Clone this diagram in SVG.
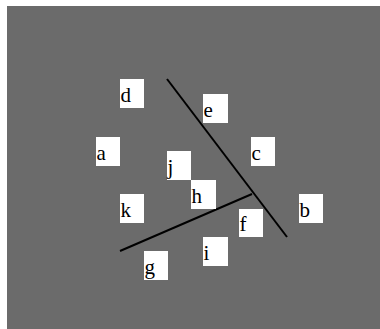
<svg xmlns="http://www.w3.org/2000/svg" width="380" height="329" viewBox="0 0 380 329">
<style>
.box{fill:#ffffff}
.lbl{font-family:"Liberation Serif","Times New Roman",serif;font-size:21px;fill:#000}
.ln{stroke:#000;stroke-width:2;fill:none}
</style>
<rect x="0" y="0" width="380" height="329" fill="#ffffff"/>
<rect x="7" y="6" width="373" height="323" fill="#6b6b6b"/>
<g id="connectors">
<line class="ln" x1="167" y1="79" x2="287" y2="237"/>
<line class="ln" x1="120" y1="251" x2="252" y2="194"/>
</g>
<g id="d"><rect class="box" x="120" y="79" width="24" height="29"/><text class="lbl" x="120.5" y="102">d</text></g>
<g id="e"><rect class="box" x="203" y="94" width="25" height="29"/><text class="lbl" x="203.5" y="117">e</text></g>
<g id="a"><rect class="box" x="96" y="137" width="24" height="29"/><text class="lbl" x="96.5" y="160">a</text></g>
<g id="c"><rect class="box" x="251" y="137" width="24" height="29"/><text class="lbl" x="251.5" y="160">c</text></g>
<g id="j"><rect class="box" x="167" y="151" width="24" height="29"/><text class="lbl" x="167.5" y="174">j</text></g>
<g id="h"><rect class="box" x="191" y="180" width="25" height="29"/><text class="lbl" x="191.5" y="203">h</text></g>
<g id="k"><rect class="box" x="120" y="194" width="24" height="29"/><text class="lbl" x="120.5" y="217">k</text></g>
<g id="b"><rect class="box" x="299" y="194" width="24" height="29"/><text class="lbl" x="299.5" y="217">b</text></g>
<g id="f"><rect class="box" x="239" y="209" width="24" height="28"/><text class="lbl" x="239.5" y="231">f</text></g>
<g id="i"><rect class="box" x="203" y="237" width="25" height="29"/><text class="lbl" x="203.5" y="260">i</text></g>
<g id="g"><rect class="box" x="144" y="251" width="24" height="29"/><text class="lbl" x="144.5" y="274">g</text></g>
</svg>
